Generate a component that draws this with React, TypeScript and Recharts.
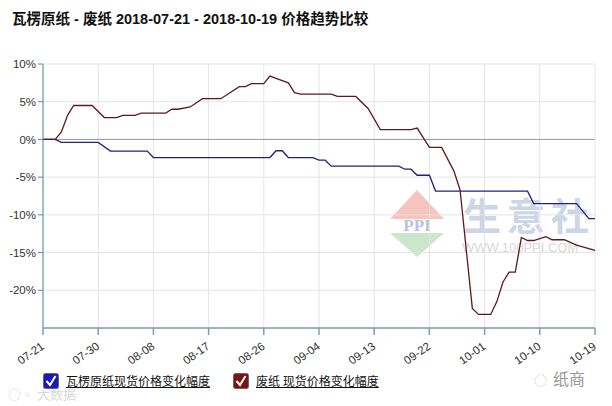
import React from 'react';
import {
  LineChart,
  Line,
  XAxis,
  YAxis,
  CartesianGrid,
  ReferenceLine,
} from 'recharts';

// 天数（从 07-21 起）与涨跌幅 %
const boardDays = [0, 2, 3, 9, 11, 17, 18, 37, 38, 39, 40, 44, 45, 46, 47, 58, 59, 60, 61, 63, 64, 79, 80, 87, 89, 90];
const boardValues = [0, 0, -0.4, -0.4, -1.55, -1.55, -2.4, -2.4, -1.5, -1.5, -2.4, -2.4, -2.75, -2.75, -3.55, -3.55, -3.95, -3.95, -4.75, -4.75, -6.85, -6.85, -8.5, -8.5, -10.5, -10.5];

const wasteDays = [0, 2, 3, 4, 5, 8, 10, 12, 13, 15, 16, 20, 21, 22, 24, 26, 29, 32, 33, 34, 36, 37, 38, 40, 41, 42, 47, 48, 51, 53, 55, 60, 61, 63, 65, 67, 68, 70, 71, 73, 74, 75, 76, 77, 78, 79, 80, 82, 83, 85, 87, 90];
const wasteValues = [0, 0, 1.0, 3.2, 4.5, 4.5, 2.9, 2.9, 3.2, 3.2, 3.5, 3.5, 4.0, 4.0, 4.3, 5.4, 5.4, 7.0, 7.0, 7.4, 7.4, 8.4, 8.1, 7.5, 6.2, 6.0, 6.0, 5.7, 5.7, 4.1, 1.3, 1.3, 1.5, -1.05, -1.05, -4.2, -6.7, -22.4, -23.2, -23.2, -21.5, -18.9, -17.6, -17.6, -13.0, -13.4, -13.4, -12.9, -13.3, -13.3, -14.0, -14.7];

const tickDays = [0, 9, 18, 27, 36, 45, 54, 63, 72, 81, 90];
const tickLabels = ['07-21', '07-30', '08-08', '08-17', '08-26', '09-04', '09-13', '09-22', '10-01', '10-10', '10-19'];
const yTicks = [-20, -15, -10, -5, 0, 5, 10];

const boardData = boardDays.map((d, i) => ({ day: d, v: boardValues[i] }));
const wasteData = wasteDays.map((d, i) => ({ day: d, v: wasteValues[i] }));

const boardName = '瓦楞原纸现货价格变化幅度';
const wasteName = '废纸 现货价格变化幅度';

const FONT = '"Liberation Sans", Arial, "Noto Sans CJK SC", sans-serif';

const XTick = (props: any) => {
  const { x, y, payload } = props;
  const label = tickLabels[tickDays.indexOf(payload.value)];
  return (
    <text
      x={x + 2}
      y={y + 11}
      transform={`rotate(-35, ${x + 2}, ${y + 11})`}
      textAnchor="end"
      fontSize={11.5}
      fontFamily={FONT}
      fill="#333"
    >
      {label}
    </text>
  );
};

const CheckBox = ({ color }: { color: string }) => (
  <svg width={16} height={16} style={{ display: 'block' }}>
    <rect x={0.5} y={0.5} width={15} height={15} rx={2} fill={color} stroke="#666" />
    <path d="M3.5 8 L7 12 L12.5 3" stroke="#fff" strokeWidth={2} fill="none" />
  </svg>
);

export default function App() {
  return (
    <div
      style={{
        position: 'absolute',
        left: 0,
        top: 0,
        width: 612,
        height: 406,
        background: '#fff',
        overflow: 'hidden',
        fontFamily: FONT,
      }}
    >
      {/* 水印 */}
      <svg width={612} height={406} style={{ position: 'absolute', left: 0, top: 0 }}>
        <polygon points="417,190 444,219 390,219" fill="#f6c4bc" />
        <polygon points="390,233 444,233 417,257" fill="#cbe6c8" />
        <text x={417} y={231} textAnchor="middle" fontSize={17} fontFamily="Liberation Serif" fill="#b9c2dc" fontWeight="bold">PPI</text>
        <text x={463} y={230} fontSize={38} fontFamily="Noto Sans CJK SC" fill="#ccd6e8" fontWeight="bold" letterSpacing={6}>生意社</text>
        <text x={462} y={252} fontSize={13} fontFamily={FONT} fill="#d8d8d8">WWW.100PPI.COM</text>
        <text x={8} y={399} fontSize={13} fontFamily="Noto Sans CJK SC" fill="#d8d8d8">◌◦ 大数据</text>
      </svg>

      <div
        style={{
          position: 'absolute',
          left: 12,
          top: 7,
          fontSize: 14.5,
          fontWeight: 'bold',
          color: '#111',
          fontFamily: '"Liberation Sans", Arial, "Noto Sans CJK SC", sans-serif',
          whiteSpace: 'nowrap',
        }}
      >
        瓦楞原纸 - 废纸 2018-07-21 - 2018-10-19 价格趋势比较
      </div>

      <div style={{ position: 'absolute', left: 0, top: 0 }}>
        <LineChart width={612} height={406} margin={{ top: 64, right: 17, bottom: 48, left: 8 }}>
          <CartesianGrid stroke="#e4e4e4" />
          <XAxis
            type="number"
            dataKey="day"
            domain={[0, 90]}
            ticks={tickDays}
            tick={<XTick />}
            tickSize={7}
            interval={0}
            height={30}
            stroke="#7f9fae"
            strokeWidth={1.5}
            allowDuplicatedCategory={false}
          />
          <YAxis
            type="number"
            domain={[-25, 10]}
            ticks={yTicks}
            tickFormatter={(v: number) => `${v}%`}
            width={35}
            tickSize={5}
            tick={{ fontSize: 11.5, fill: '#333', fontFamily: FONT }}
            stroke="#5b8d96"
          />
          <ReferenceLine y={0} stroke="#9a9a9a" />
          <Line
            data={boardData}
            dataKey="v"
            type="linear"
            stroke="#22227a"
            strokeWidth={1.3}
            dot={false}
            isAnimationActive={false}
          />
          <Line
            data={wasteData}
            dataKey="v"
            type="linear"
            stroke="#5e1a1a"
            strokeWidth={1.3}
            dot={false}
            isAnimationActive={false}
          />
        </LineChart>
      </div>

      {/* 图例 */}
      <div style={{ position: 'absolute', left: 43, top: 372, display: 'flex', alignItems: 'center' }}>
        <CheckBox color="#1a1ab4" />
        <span style={{ marginLeft: 7, fontSize: 12, textDecoration: 'underline', color: '#111', fontFamily: '"Noto Sans CJK SC"' }}>
          {boardName}
        </span>
      </div>
      <div style={{ position: 'absolute', left: 233, top: 372, display: 'flex', alignItems: 'center' }}>
        <CheckBox color="#7a1414" />
        <span style={{ marginLeft: 7, fontSize: 12, textDecoration: 'underline', color: '#111', fontFamily: '"Noto Sans CJK SC"' }}>
          {wasteName}
        </span>
      </div>
      <div style={{ position: 'absolute', left: 534, top: 366, fontSize: 16, color: '#999', fontFamily: '"Noto Sans CJK SC"' }}>
        <span style={{ color: '#ccc', fontSize: 13, marginRight: 6 }}>◌</span>纸商
      </div>
    </div>
  );
}
